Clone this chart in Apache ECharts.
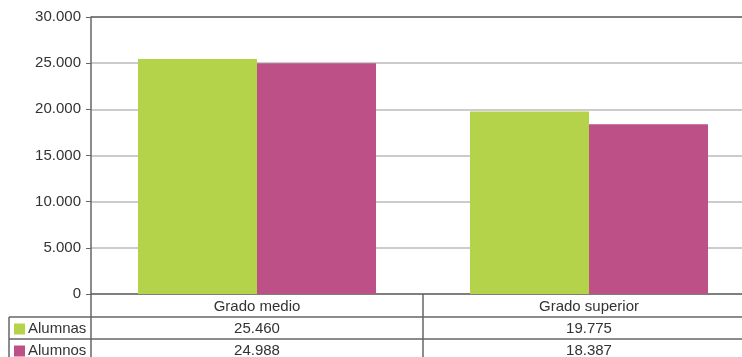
<!DOCTYPE html>
<html><head><meta charset="utf-8">
<script src="https://cdn.jsdelivr.net/npm/echarts@6/dist/echarts.min.js"></script>
<style>html,body{margin:0;padding:0;background:#fff;overflow:hidden;width:742px;height:357px}#c{width:755px;height:357px}</style>
</head><body><div id="c"></div>
<script>
const categories = ['Grado medio', 'Grado superior'];
const seriesNames = ['Alumnas', 'Alumnos'];
const alumnas = [25460, 19775];
const alumnos = [24988, 18387];
const colors = ['#B5D24B', '#BC5087'];
const yMax = 30000, yStep = 5000;

function fmt(v) { return String(v).replace(/\B(?=(\d{3})+(?!\d))/g, '.'); }

const FONT = 'Liberation Sans, Arial, sans-serif';
const FS = 15;
const chart = echarts.init(document.getElementById('c'), null, {renderer: 'canvas'});
const GL = 91, GT = 17, GH = 277;
chart.setOption({
  animation: false,
  grid: {left: GL, top: GT, right: 0, height: GH},
  xAxis: {
    type: 'category', data: categories,
    axisLine: {lineStyle: {color: '#666', width: 1.5}},
    axisTick: {show: false},
    axisLabel: {color: '#333', fontFamily: FONT, fontSize: FS, margin: 5}
  },
  yAxis: {
    type: 'value', min: 0, max: yMax, interval: yStep,
    axisLine: {show: true, lineStyle: {color: '#666', width: 1.5}},
    axisTick: {show: true, length: 5, lineStyle: {color: '#666'}},
    axisLabel: {color: '#333', fontFamily: FONT, fontSize: FS, margin: 10, formatter: v => fmt(v)},
    splitLine: {lineStyle: {color: '#bbb', width: 1.5}}
  },
  series: [
    {name: seriesNames[0], type: 'bar', data: alumnas, barGap: '0%', barCategoryGap: '28.3%', itemStyle: {color: colors[0]}},
    {name: seriesNames[1], type: 'bar', data: alumnos, itemStyle: {color: colors[1]}}
  ]
});

// Data table under the chart
const W = 755, H = 357;
const y0 = chart.convertToPixel({yAxisIndex: 0}, 0);
const yTop = chart.convertToPixel({yAxisIndex: 0}, yMax);
const gridW = W - GL;
const colEdges = [GL];
categories.forEach((c, i) => colEdges.push(GL + gridW / categories.length * (i + 1)));
const headH = 23, rowH = 22, tableLeft = 9;
const lineStyle = {stroke: '#666', lineWidth: 1.5};
const g = [];
function line(x1, y1, x2, y2, st) { g.push({type: 'line', shape: {x1, y1, x2, y2}, style: st || lineStyle, silent: true}); }
line(GL, yTop, W, yTop, {stroke: '#666', lineWidth: 1.5});
line(GL, y0, GL, H + 2);
for (let i = 1; i < colEdges.length - 1; i++) line(colEdges[i], y0, colEdges[i], H + 2);
line(tableLeft, y0 + headH, tableLeft, H + 2);
line(tableLeft, y0 + headH, W, y0 + headH);
line(tableLeft, y0 + headH + rowH, W, y0 + headH + rowH);
const rows = [alumnas, alumnos];
rows.forEach((vals, r) => {
  const cy = y0 + headH + rowH * r + rowH / 2 + 0.5;
  g.push({type: 'rect', shape: {x: tableLeft + 5, y: cy - 5, width: 11, height: 11}, style: {fill: colors[r]}, silent: true});
  g.push({type: 'text', x: tableLeft + 19, y: cy, style: {text: seriesNames[r], fill: '#333', font: FS + 'px ' + FONT, textVerticalAlign: 'middle', verticalAlign: 'middle'}, silent: true});
  vals.forEach((v, i) => {
    const cx = chart.convertToPixel({xAxisIndex: 0}, categories[i]);
    g.push({type: 'text', x: cx, y: cy, style: {text: fmt(v), fill: '#333', font: FS + 'px ' + FONT, align: 'center', textAlign: 'center', verticalAlign: 'middle', textVerticalAlign: 'middle'}, silent: true});
  });
});
chart.setOption({graphic: g});
</script></body></html>
